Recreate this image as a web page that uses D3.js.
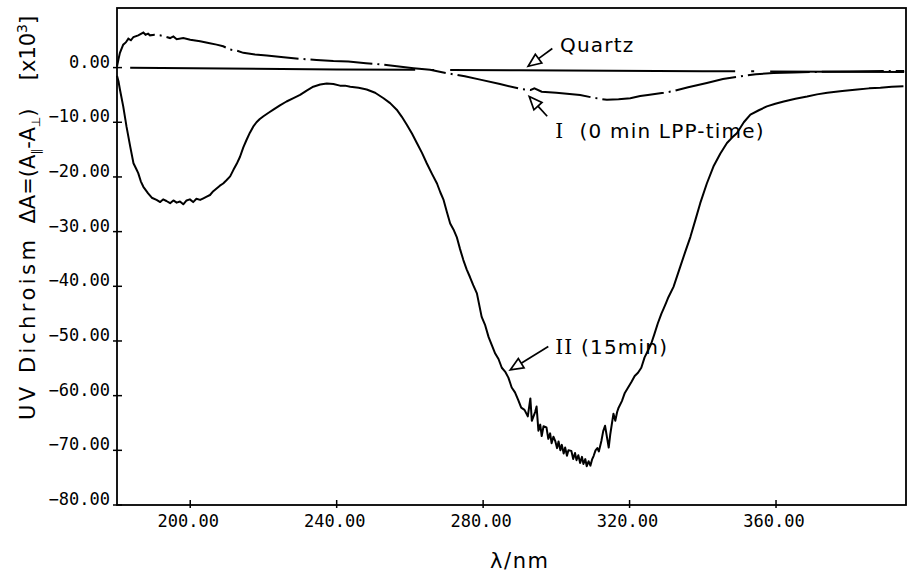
<!DOCTYPE html>
<html lang="en">
<head>
  <meta charset="UTF-8">
  <title>UV Dichroism</title>
  <script src="https://cdn.jsdelivr.net/npm/d3@7"></script>
  <style>
    body { margin: 0; background: #fff; }
    svg { display: block; }
  </style>
</head>
<body>
  <div id="chart"></div>

  <script>
    // wavelength / dichroism values (x10^3)
    var curve2Nm = [180.0, 180.4, 180.8, 181.7, 182.6, 183.6, 184.5, 185.3, 185.8, 186.5, 187.2, 188.5, 189.5, 190.8, 191.8, 192.6, 193.5, 194.5, 195.4, 196.3, 197.2, 198.1, 199.0, 199.9, 200.8, 201.7, 202.7, 203.6, 204.5, 205.4, 206.3, 207.2, 208.1, 209.0, 209.9, 210.9, 211.8, 212.7, 213.6, 214.5, 215.4, 216.3, 217.2, 218.1, 219.0, 220.0, 221.3, 222.7, 224.5, 226.3, 228.2, 230.0, 231.8, 233.6, 235.5, 237.3, 239.1, 240.9, 242.3, 243.7, 246.0, 248.2, 250.5, 252.8, 254.6, 256.4, 257.8, 259.2, 260.6, 261.9, 263.3, 264.6, 266.0, 267.4, 268.3, 269.2, 270.1, 271.0, 271.9, 272.8, 273.7, 274.6, 275.5, 276.4, 277.3, 278.3, 279.6, 280.5, 281.5, 282.4, 283.3, 284.2, 285.1, 286.0, 286.9, 287.8, 288.7, 289.6, 290.4, 291.3, 292.2, 292.9, 293.3, 294.2, 294.6, 295.1, 295.6, 296.0, 296.5, 297.3, 297.8, 298.3, 298.7, 299.2, 299.7, 300.2, 300.6, 301.1, 301.5, 302.0, 302.4, 302.9, 303.3, 304.1, 304.6, 305.1, 305.5, 306.0, 306.5, 307.0, 307.4, 307.9, 308.3, 308.8, 309.3, 309.8, 310.2, 310.7, 311.2, 311.6, 312.3, 312.8, 313.3, 313.8, 314.3, 314.7, 315.2, 315.6, 316.1, 316.6, 317.0, 317.9, 318.7, 319.6, 320.5, 321.4, 322.3, 323.2, 324.1, 325.0, 325.9, 326.8, 327.7, 328.7, 329.3, 330.0, 330.6, 332.0, 333.8, 335.2, 336.6, 338.0, 339.3, 341.1, 342.9, 344.8, 346.6, 348.0, 349.3, 351.2, 353.0, 355.3, 357.5, 359.8, 362.1, 365.3, 368.5, 371.2, 374.0, 378.1, 382.2, 385.4, 388.5, 391.6, 394.8];
    var curve2Val = [-1.5, -2.5, -4.0, -7.1, -10.8, -14.4, -17.5, -18.6, -19.3, -20.8, -21.8, -23.0, -23.8, -24.2, -24.6, -24.1, -24.4, -24.8, -24.3, -24.7, -24.5, -25.0, -24.3, -24.1, -24.6, -24.0, -24.2, -23.9, -23.6, -23.3, -22.6, -22.1, -21.6, -21.2, -20.6, -19.9, -18.7, -17.6, -16.3, -14.6, -13.2, -11.9, -10.8, -10.0, -9.4, -8.9, -8.3, -7.7, -6.9, -6.2, -5.6, -5.0, -4.2, -3.5, -3.1, -2.9, -3.0, -3.3, -3.3, -3.5, -3.7, -4.0, -4.6, -5.6, -6.5, -7.7, -9.0, -10.5, -12.1, -13.8, -15.6, -17.5, -19.4, -21.2, -22.8, -24.2, -26.4, -28.5, -29.6, -31.0, -33.2, -35.2, -36.9, -38.3, -39.8, -41.3, -45.6, -47.0, -49.3, -50.8, -52.3, -53.3, -54.9, -55.6, -56.7, -58.5, -59.4, -60.8, -62.2, -62.6, -63.8, -60.5, -64.6, -63.0, -62.0, -66.4, -65.3, -67.4, -65.6, -65.8, -67.9, -66.9, -68.7, -67.5, -68.3, -69.6, -68.4, -70.0, -69.0, -70.6, -69.5, -71.0, -70.0, -70.1, -71.6, -70.5, -71.8, -70.9, -72.3, -71.2, -72.5, -71.6, -72.9, -72.0, -72.8, -71.6, -71.0, -70.0, -69.6, -70.2, -68.3, -66.5, -65.5, -67.5, -69.5, -67.2, -65.0, -63.3, -64.6, -63.0, -62.2, -61.0, -59.5, -58.5, -57.5, -56.4, -55.8, -54.9, -53.0, -51.8, -50.5, -48.7, -46.8, -45.0, -44.1, -43.0, -42.0, -40.1, -36.5, -33.7, -31.0, -27.8, -24.8, -21.2, -18.1, -15.7, -13.8, -12.8, -12.0, -10.0, -8.6, -7.8, -7.1, -6.6, -6.2, -5.7, -5.3, -4.9, -4.6, -4.3, -4.0, -3.8, -3.7, -3.5, -3.4];

    var curve1Nm = [180.0, 180.4, 180.8, 181.7, 182.4, 183.1, 183.8, 184.5, 185.8, 187.2, 187.8, 188.5, 189.0, 190.3, 191.7, 193.0, 194.5, 195.4, 196.3, 198.1, 200.0, 202.7, 205.0, 207.2, 209.0, 210.9, 212.7, 214.5, 217.7, 220.9, 225.5, 230.0, 234.5, 239.1, 243.2, 248.0, 252.7, 257.0, 261.0, 265.5, 270.0, 275.0, 279.2, 284.6, 290.2, 293.0, 294.0, 296.0, 300.0, 306.5, 310.0, 313.8, 317.0, 320.2, 322.9, 325.0, 329.3, 332.0, 336.0, 341.1, 345.5, 350.2, 354.5, 359.3, 364.8, 370.0, 380.0, 390.0, 395.0];
    var curve1Val = [0.2, 1.5, 2.7, 4.2, 4.6, 5.3, 5.0, 5.6, 5.9, 6.4, 6.0, 6.2, 5.9, 6.0, 5.9, 5.7, 5.4, 5.7, 5.2, 5.4, 5.1, 4.8, 4.5, 4.2, 3.9, 3.3, 3.1, 2.7, 2.4, 2.2, 1.9, 1.6, 1.4, 1.2, 1.1, 0.8, 0.55, 0.2, -0.1, -0.4, -1.0, -1.6, -2.2, -3.0, -3.9, -4.1, -3.8, -4.4, -4.6, -5.0, -5.5, -5.9, -5.8, -5.6, -5.2, -5.0, -4.6, -4.3, -3.6, -2.8, -2.1, -1.6, -1.2, -1.0, -0.9, -0.8, -0.7, -0.6, -0.6];

    var quartzNm = [183.6, 240, 290, 340, 395];
    var quartzVal = [-0.05, -0.35, -0.5, -0.65, -0.8];

    var xTicks = [200, 240, 280, 320, 360];
    var yTicks = [0, -10, -20, -30, -40, -50, -60, -70, -80];

    // annotations: roman numeral, label text, arrow tip, arrow tail, label start (nm, value)
    var notes = [
      { num: "", label: "Quartz", tip: [292.3, 0.25], tail: [298.9, 3.5], at: [301.0, 2.8] },
      { num: "I", label: "  (0 min LPP-time)", tip: [292.6, -5.3], tail: [297.5, -8.9], at: [299.7, -12.8] },
      { num: "II", label: " (15min)", tip: [287.4, -55.3], tail: [297.8, -51.0], at: [299.7, -52.3] }
    ];

    var W = 908, H = 573;
    var svg = d3.select("#chart").append("svg")
      .attr("width", W).attr("height", H);

    var x = d3.scaleLinear().domain([180, 395.5]).range([117, 906]);
    var y = d3.scaleLinear().domain([-80, 10.9]).range([505, 8]);

    var line = d3.line().x(d => x(d[0])).y(d => y(d[1]));

    var c1 = curve1Nm.map((d, i) => [d, curve1Val[i]]);
    var c2 = curve2Nm.map((d, i) => [d, curve2Val[i]]);
    var cq = quartzNm.map((d, i) => [d, quartzVal[i]]);

    // frame
    svg.append("rect")
      .attr("x", x(180)).attr("y", y(10.9))
      .attr("width", x(395.5) - x(180)).attr("height", y(-80) - y(10.9))
      .attr("fill", "none").attr("stroke", "#000").attr("stroke-width", 1.8);

    // y ticks and labels
    var gy = svg.append("g");
    gy.selectAll("line").data(yTicks).enter().append("line")
      .attr("x1", x(180) - 4).attr("x2", x(180) + 5)
      .attr("y1", d => y(d)).attr("y2", d => y(d))
      .attr("stroke", "#000").attr("stroke-width", 1.5);
    gy.selectAll("text").data(yTicks).enter().append("text")
      .attr("x", x(180) - 7).attr("y", d => y(d))
      .attr("text-anchor", "end")
      .attr("font-family", "DejaVu Sans Mono").attr("font-size", 17)
      .text(d => d3.format(".2f")(d));

    // x ticks and labels
    var gx = svg.append("g");
    gx.selectAll("line").data(xTicks).enter().append("line")
      .attr("x1", d => x(d)).attr("x2", d => x(d))
      .attr("y1", y(-80) - 5).attr("y2", y(-80) + 3)
      .attr("stroke", "#000").attr("stroke-width", 1.5);
    gx.selectAll("text").data(xTicks).enter().append("text")
      .attr("x", d => x(d) - 2).attr("y", 527)
      .attr("text-anchor", "middle")
      .attr("font-family", "DejaVu Sans Mono").attr("font-size", 17)
      .text(d => d3.format(".2f")(d));

    // curves
    svg.append("path").attr("d", line(cq))
      .attr("fill", "none").attr("stroke", "#000").attr("stroke-width", 2)
      .attr("stroke-dasharray", "285 16 3 16");
    svg.append("path").attr("d", line(c1))
      .attr("fill", "none").attr("stroke", "#000").attr("stroke-width", 2)
      .attr("stroke-dasharray", "62 5 2 5");
    svg.append("path").attr("d", line(c2))
      .attr("fill", "none").attr("stroke", "#000").attr("stroke-width", 2)
      .attr("stroke-linejoin", "round");

    // arrows with open heads
    notes.forEach(function (n) {
      var tx = x(n.tip[0]), ty = y(n.tip[1]);
      var ex = x(n.tail[0]), ey = y(n.tail[1]);
      var ang = Math.atan2(ey - ty, ex - tx);
      var len = 14, half = 0.4;
      var p1 = [tx + len * Math.cos(ang - half), ty + len * Math.sin(ang - half)];
      var p2 = [tx + len * Math.cos(ang + half), ty + len * Math.sin(ang + half)];
      var mid = [(p1[0] + p2[0]) / 2, (p1[1] + p2[1]) / 2];
      svg.append("path")
        .attr("d", "M" + tx + "," + ty + "L" + p1 + "L" + p2 + "Z")
        .attr("fill", "#fff").attr("stroke", "#000").attr("stroke-width", 1.7)
        .attr("stroke-linejoin", "miter");
      svg.append("line")
        .attr("x1", mid[0]).attr("y1", mid[1]).attr("x2", ex).attr("y2", ey)
        .attr("stroke", "#000").attr("stroke-width", 1.7);
      var t = svg.append("text")
        .attr("x", x(n.at[0])).attr("y", y(n.at[1]))
        .attr("font-family", "DejaVu Sans").attr("font-size", 20)
        .attr("letter-spacing", 1.2);
      if (n.num) t.append("tspan").attr("font-family", "DejaVu Serif").text(n.num);
      t.append("tspan").attr("xml:space", "preserve").text(n.label);
    });

    // axis titles
    svg.append("text")
      .attr("x", 519).attr("y", 568)
      .attr("text-anchor", "middle")
      .attr("font-family", "DejaVu Sans").attr("font-size", 21)
      .attr("textLength", 58)
      .text("λ/nm");

    var yt = svg.append("g").attr("font-family", "DejaVu Sans").attr("font-size", 21);
    yt.append("text")
      .attr("transform", "translate(35,330) rotate(-90)")
      .attr("text-anchor", "middle")
      .attr("textLength", 180)
      .text("UV Dichroism");
    var t2 = yt.append("text")
      .attr("transform", "translate(35,166) rotate(-90)")
      .attr("text-anchor", "middle");
    t2.append("tspan").text("ΔA=(A");
    t2.append("tspan").attr("font-size", 12).attr("dy", 5).text("\u2225");
    t2.append("tspan").attr("dy", -5).text("-A");
    t2.append("tspan").attr("font-size", 12).attr("dy", 5).text("\u22A5");
    t2.append("tspan").attr("dy", -5).text(")");
    var t3 = yt.append("text")
      .attr("transform", "translate(35,48) rotate(-90)")
      .attr("text-anchor", "middle");
    t3.append("tspan").text("[x10");
    t3.append("tspan").attr("font-size", 14).attr("dy", -8).text("3");
    t3.append("tspan").attr("dy", 8).text("]");
  </script>
</body>
</html>
